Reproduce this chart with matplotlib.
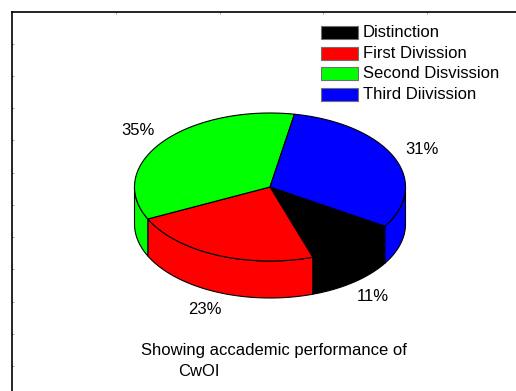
import numpy as np
import matplotlib.pyplot as plt
from matplotlib.patches import Polygon, Rectangle

categories = ['Distinction', 'First Divission', 'Second Disvission', 'Third Diivission']
percent = [11, 23, 35, 31]
colors = ['#000000', '#ff0000', '#00ff00', '#0000ff']
caption = ['Showing accademic performance of', 'CwOI']

plt.rcParams['font.family'] = ['Liberation Sans', 'DejaVu Sans']

fig = plt.figure(figsize=(5.16, 3.91), dpi=100)
# axes in pixel units so the pie keeps its shape
ax = fig.add_axes([12 / 516, 0, 504 / 516, 379 / 391])
ax.set_xlim(12, 516)
ax.set_ylim(391, 12)
ax.spines['right'].set_visible(False)
ax.spines['bottom'].set_visible(False)
ax.spines['left'].set_linewidth(1.2)
ax.spines['top'].set_linewidth(1.2)
ax.xaxis.tick_top()
ax.set_xticks(np.arange(116, 516, 103.5))
ax.set_yticks(np.arange(43.7, 380, 32.25))
ax.tick_params(direction='in', length=1.3, width=0.7, color='#a0a0a0',
               labeltop=False, labelleft=False, labelbottom=False)

# 3d pie: top ellipse + front wall
cx, cy, rx, ry, depth = 270, 187, 135.5, 74, 37
start = -32


def arc(a0, a1, n=100):
    t = np.radians(np.linspace(a0, a1, n))
    return cx + rx * np.cos(t), cy - ry * np.sin(t)


sweep = np.array(percent) * 3.6
ends = start - np.cumsum(sweep)
starts = ends + sweep

for lo, hi, c in zip(ends, starts, colors):
    for k in range(-2, 3):
        a = max(lo + 360 * k, -180)
        b = min(hi + 360 * k, 0)
        if b > a:
            x, y = arc(a, b)
            pts = np.vstack([np.column_stack([x, y]),
                             np.column_stack([x[::-1], y[::-1] + depth])])
            ax.add_patch(Polygon(pts, closed=True, facecolor=c,
                                 edgecolor='black', lw=0.8, zorder=2))

for lo, hi, c in zip(ends, starts, colors):
    x, y = arc(lo, hi)
    pts = np.vstack([[cx, cy], np.column_stack([x, y])])
    ax.add_patch(Polygon(pts, closed=True, facecolor=c,
                         edgecolor='black', lw=0.8, zorder=3))

# percentage labels outside each slice
for lo, hi, p in zip(ends, starts, percent):
    mid = np.radians((lo + hi) / 2)
    lx = cx + 1.23 * rx * np.cos(mid)
    ly = cy - 1.25 * ry * np.sin(mid)
    if np.sin(mid) < 0:
        ly += depth
    ax.text(lx, ly, f'{p}%', ha='center', va='center', fontsize=12)

# legend
for i, (name, c) in enumerate(zip(categories, colors)):
    y = 32.7 + 20.6 * i
    ax.add_patch(Rectangle((321, y - 6.5), 37, 13, facecolor=c,
                           edgecolor='#707070', lw=0.8, zorder=4))
    ax.text(363, y, name, va='center', ha='left', fontsize=12)

ax.text(141, 351, caption[0], va='center', ha='left', fontsize=12)
ax.text(178, 371, caption[1], va='center', ha='left', fontsize=12)

fig.savefig('out.png', dpi=100)
